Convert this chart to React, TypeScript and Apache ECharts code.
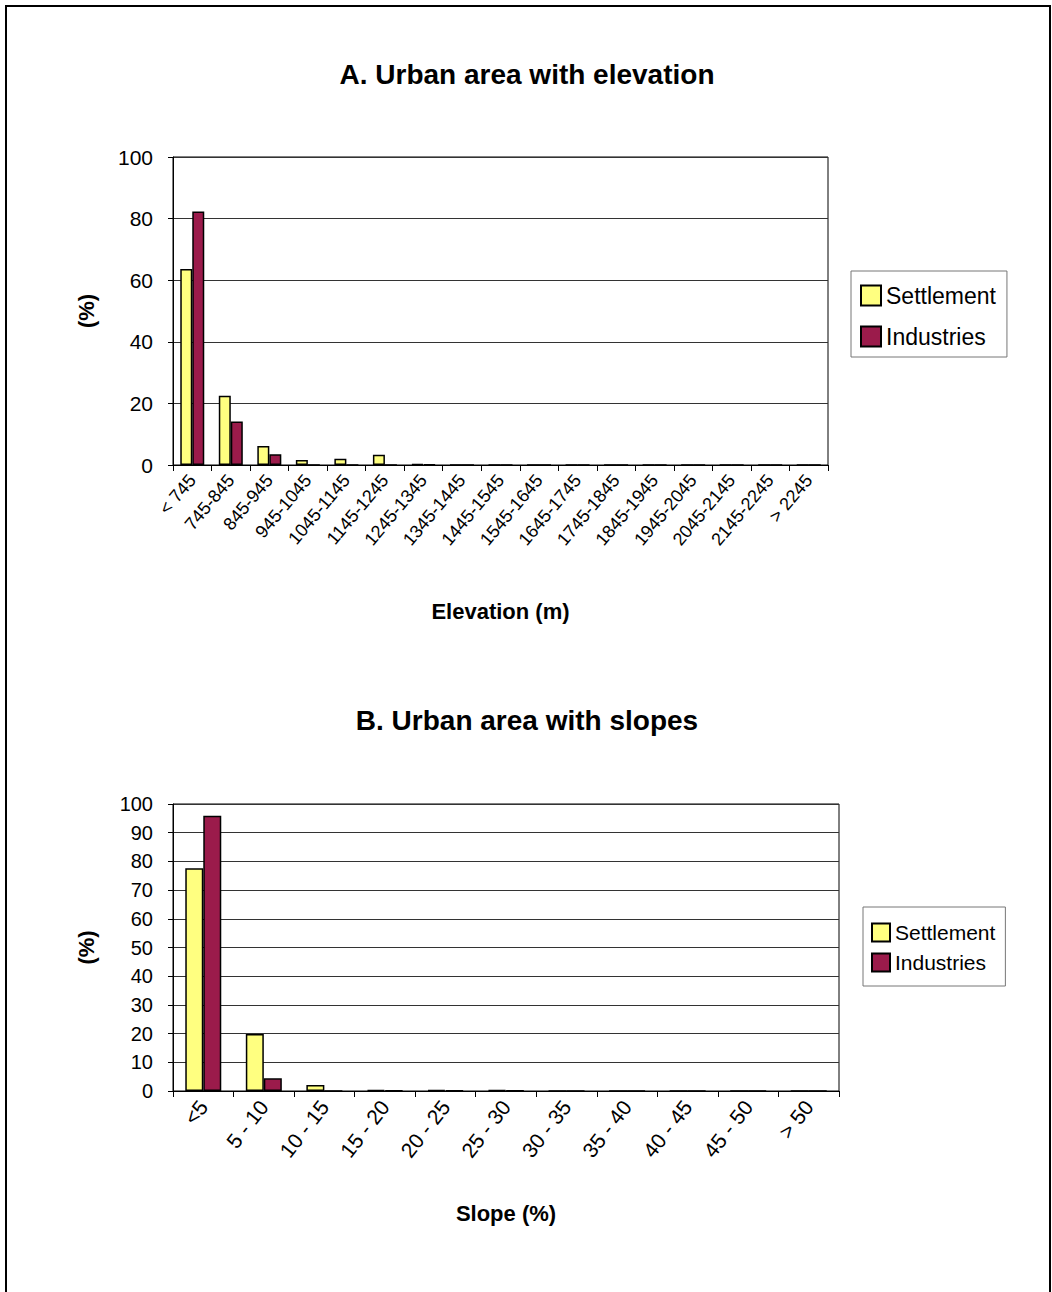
import React, { useEffect, useRef } from "react";
import * as echarts from "echarts";

const elevationCategories = [
  "< 745", "745-845", "845-945", "945-1045", "1045-1145", "1145-1245", "1245-1345",
  "1345-1445", "1445-1545", "1545-1645", "1645-1745", "1745-1845", "1845-1945",
  "1945-2045", "2045-2145", "2145-2245", "> 2245",
];
const elevationSettlement = [63.6, 22.5, 6.2, 1.6, 2.0, 3.3, 0.3, 0, 0, 0, 0, 0, 0, 0, 0, 0, 0];
const elevationIndustries = [82.3, 14.1, 3.5, 0, 0, 0, 0.2, 0, 0, 0, 0, 0, 0, 0, 0, 0, 0];

const slopeCategories = [
  "<5", "5 - 10", "10 - 15", "15 - 20", "20 - 25", "25 - 30",
  "30 - 35", "35 - 40", "40 - 45", "45 - 50", "> 50",
];
const slopeSettlement = [77.6, 19.9, 2.1, 0.4, 0.4, 0.3, 0, 0, 0, 0, 0];
const slopeIndustries = [95.9, 4.4, 0, 0.2, 0.2, 0.1, 0, 0, 0, 0, 0];

const elevationTicks = { min: 0, max: 100, interval: 20 };
const slopeTicks = { min: 0, max: 100, interval: 10 };

const seriesNames = ["Settlement", "Industries"];

const FONT = "'Liberation Sans', Arial, sans-serif";
const YELLOW = "#FFFF80";
const MAROON = "#9B1B4B";

export default function App() {
  const ref = useRef<HTMLDivElement>(null);

  useEffect(() => {
    if (!ref.current) return;
    const chart = echarts.init(ref.current, null, { renderer: "svg" });

    const yAxisCommon = (ticks: any, fontSize: number) => ({
      type: "value",
      min: ticks.min,
      max: ticks.max,
      interval: ticks.interval,
      name: "(%)",
      nameLocation: "middle",
      nameRotate: 90,
      nameGap: 76,
      nameTextStyle: { fontFamily: FONT, fontWeight: "bold", fontSize: 22, color: "#000" },
      axisLine: { show: true, lineStyle: { color: "#000", width: 1 } },
      axisTick: { show: true, inside: false, length: 5, lineStyle: { color: "#000" } },
      axisLabel: { fontFamily: FONT, fontSize, color: "#000", margin: 20 },
      splitLine: { show: true, lineStyle: { color: "#333", width: 1 } },
    });

    const xAxisCommon = (cats: string[], name: string, nameGap: number, fontSize: number, rotate: number) => ({
      type: "category",
      data: cats,
      boundaryGap: true,
      name,
      nameLocation: "middle",
      nameGap,
      nameTextStyle: { fontFamily: FONT, fontWeight: "bold", fontSize: 22, color: "#000" },
      axisLine: { show: true, lineStyle: { color: "#000", width: 1 } },
      axisTick: { show: true, alignWithLabel: false, length: 6, lineStyle: { color: "#000" } },
      axisLabel: { interval: 0, rotate, fontFamily: FONT, fontSize, color: "#000", margin: 12 },
      splitLine: { show: false },
    });

    const barStyle = (color: string) => ({ color, borderColor: "#000", borderWidth: 1.5 });

    const legendCommon = {
      orient: "vertical",
      data: seriesNames,
      icon: "rect",
      borderColor: "#777",
      borderWidth: 1,
      backgroundColor: "#fff",
      textStyle: { fontFamily: FONT, color: "#000" },
    };

    chart.setOption({
      animation: false,
      backgroundColor: "#fff",
      graphic: [
        {
          type: "rect",
          shape: { x: 6, y: 6, width: 1044, height: 1300 },
          style: { fill: "none", stroke: "#000", lineWidth: 2 },
          silent: true,
        },
        {
          type: "text",
          x: 527,
          y: 74,
          style: {
            text: "A. Urban area with elevation",
            fontFamily: FONT,
            fontWeight: "bold",
            fontSize: 28,
            fill: "#000",
            textAlign: "center",
            textVerticalAlign: "middle",
          },
        },
        {
          type: "text",
          x: 527,
          y: 720,
          style: {
            text: "B. Urban area with slopes",
            fontFamily: FONT,
            fontWeight: "bold",
            fontSize: 28,
            fill: "#000",
            textAlign: "center",
            textVerticalAlign: "middle",
          },
        },
      ],
      legend: [
        {
          ...legendCommon,
          left: 851,
          top: 271,
          padding: [13, 11, 9, 9],
          itemWidth: 20,
          itemHeight: 20,
          itemGap: 18,
          textStyle: { ...legendCommon.textStyle, fontSize: 23 },
        },
        {
          ...legendCommon,
          left: 863,
          top: 907,
          padding: [15, 10, 13, 8],
          itemWidth: 18,
          itemHeight: 18,
          itemGap: 9,
          textStyle: { ...legendCommon.textStyle, fontSize: 21 },
        },
      ],
      grid: [
        { left: 173, top: 157, width: 655, height: 308, show: true, borderColor: "#000", borderWidth: 1, backgroundColor: "#fff" },
        { left: 173, top: 804, width: 666, height: 287, show: true, borderColor: "#000", borderWidth: 1, backgroundColor: "#fff" },
      ],
      xAxis: [
        { ...xAxisCommon(elevationCategories, "Elevation (m)", 135, 18, 50), gridIndex: 0 },
        { ...xAxisCommon(slopeCategories, "Slope (%)", 111, 21, 52), gridIndex: 1 },
      ],
      yAxis: [
        { ...yAxisCommon(elevationTicks, 21), gridIndex: 0 },
        { ...yAxisCommon(slopeTicks, 20), gridIndex: 1 },
      ],
      series: [
        {
          name: seriesNames[0],
          type: "bar",
          xAxisIndex: 0,
          yAxisIndex: 0,
          data: elevationSettlement,
          barWidth: 12,
          barGap: "0%",
          itemStyle: barStyle(YELLOW),
        },
        {
          name: seriesNames[1],
          type: "bar",
          xAxisIndex: 0,
          yAxisIndex: 0,
          data: elevationIndustries,
          barWidth: 12,
          barGap: "0%",
          itemStyle: barStyle(MAROON),
        },
        {
          name: seriesNames[0],
          type: "bar",
          xAxisIndex: 1,
          yAxisIndex: 1,
          data: slopeSettlement,
          barWidth: 18,
          barGap: "0%",
          itemStyle: barStyle(YELLOW),
        },
        {
          name: seriesNames[1],
          type: "bar",
          xAxisIndex: 1,
          yAxisIndex: 1,
          data: slopeIndustries,
          barWidth: 18,
          barGap: "0%",
          itemStyle: barStyle(MAROON),
        },
      ],
    });

    return () => chart.dispose();
  }, []);

  return (
    <div
      ref={ref}
      style={{ position: "absolute", left: 0, top: 0, width: 1052, height: 1292, background: "#fff" }}
    />
  );
}
